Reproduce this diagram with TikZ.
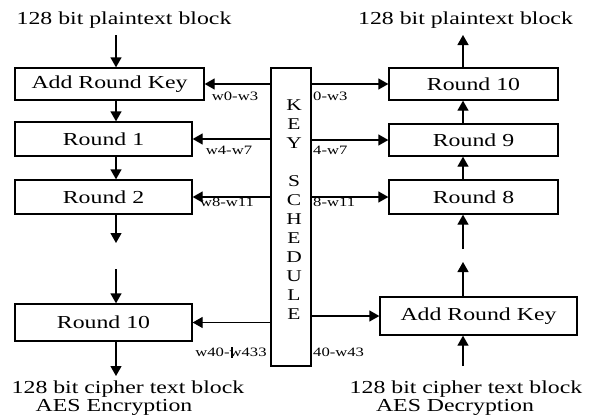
\documentclass[tikz,border=0pt]{standalone}
\usepackage{fontspec}
\usepackage{graphicx}
\setmainfont{Liberation Serif}
\usetikzlibrary{arrows.meta}
\newcommand\wide[1]{\scalebox{1.3}[1]{#1}}
\tikzset{
  box/.style={draw, line width=1.3pt, inner sep=0pt, font=\fontsize{18.3}{20}\selectfont},
  big/.style={inner sep=0pt, font=\fontsize{18.3}{20}\selectfont},
  lbl/.style={inner sep=0pt, font=\fontsize{12.8}{14}\selectfont},
  arr/.style={line width=1.3pt, -{Triangle[length=10pt,width=11pt]}}
}
\begin{document}
\begin{tikzpicture}[x=1pt,y=-1pt]
\useasboundingbox (0,0) rectangle (589,415);
% left column
\node[big] (pl) at (124,20) {\wide{128 bit plaintext block}};
\node[box, minimum width=189pt, minimum height=32pt] (lark) at (109.5,84) {\wide{Add Round Key}};
\node[box, minimum width=177pt, minimum height=34pt] (r1) at (103.5,139) {\wide{Round 1}};
\node[box, minimum width=177pt, minimum height=34pt] (r2) at (103.5,197) {\wide{Round 2}};
\node[box, minimum width=177pt, minimum height=37pt] (r10) at (103.5,322.5) {\wide{Round 10}};
\node[big] (ct) at (128,389) {\wide{128 bit cipher text block}};
\node[big] (enc) at (114,407) {\wide{AES Encryption}};
\coordinate (ax) at (116,0);
\coordinate (la0) at (116,35);
\coordinate (la1) at (116,243);
\coordinate (la2) at (116,269);
\coordinate (la3) at (116,376);
\draw[arr] (la0) -- (lark.north -| ax);
\draw[arr] (lark.south -| ax) -- (r1.north -| ax);
\draw[arr] (r1.south -| ax) -- (r2.north -| ax);
\draw[arr] (r2.south -| ax) -- (la1);
\draw[arr] (la2) -- (r10.north -| ax);
\draw[arr] (r10.south -| ax) -- (la3);
% key schedule
\node[draw, line width=1.3pt, minimum width=40pt, minimum height=298pt, inner sep=0pt] (key) at (291,217) {};
\node[inner sep=0pt, align=center, font=\fontsize{16.5}{19}\selectfont] (ks) at (294,209.5)
  {\wide{K}\\\wide{E}\\\wide{Y}\\~\\\wide{S}\\\wide{C}\\\wide{H}\\\wide{E}\\\wide{D}\\\wide{U}\\\wide{L}\\\wide{E}};
% right column
\node[big] (pr) at (465.5,20) {\wide{128 bit plaintext block}};
\node[box, minimum width=169pt, minimum height=32pt] (R10) at (473.5,84) {\wide{Round 10}};
\node[box, minimum width=169pt, minimum height=32pt] (R9) at (473.5,140) {\wide{Round 9}};
\node[box, minimum width=169pt, minimum height=34pt] (R8) at (473.5,197) {\wide{Round 8}};
\node[box, minimum width=197pt, minimum height=38pt] (rark) at (478.5,316) {\wide{Add Round Key}};
\node[big] (cr) at (466,389) {\wide{128 bit cipher text block}};
\node[big] (dec) at (455,407) {\wide{AES Decryption}};
\coordinate (bx) at (463,0);
\coordinate (ra0) at (463,35);
\coordinate (ra1) at (463,249);
\coordinate (ra2) at (463,262);
\coordinate (ra3) at (463,366);
\draw[arr] (R10.north -| bx) -- (ra0);
\draw[arr] (R9.north -| bx) -- (R10.south -| bx);
\draw[arr] (R8.north -| bx) -- (R9.south -| bx);
\draw[arr] (ra1) -- (R8.south -| bx);
\draw[arr] (rark.north -| bx) -- (ra2);
\draw[arr] (ra3) -- (rark.south -| bx);
% key arrows
\draw[arr] (key.west |- lark.east) -- (lark.east);
\draw[arr] (key.west |- r1.east) -- (r1.east);
\draw[arr] (key.west |- r2.east) -- (r2.east);
\draw[arr] (key.west |- r10.east) -- (r10.east);
\draw[arr] (key.east |- R10.west) -- (R10.west);
\draw[arr] (key.east |- R9.west) -- (R9.west);
\draw[arr] (key.east |- R8.west) -- (R8.west);
\draw[arr] (key.east |- rark.west) -- (rark.west);
% labels
\node[lbl] (l1) at (235,96) {\wide{w0-w3}};
\node[lbl] (l2) at (229,150) {\wide{w4-w7}};
\node[lbl] (l3) at (227,202) {\wide{w8-w11}};
\node[lbl] (l4) at (231,352) {\wide{w40-w433}};
\draw[line width=1.3pt] (232,347) -- (232,358);
\node[lbl, anchor=west] (m1) at (313,96) {\wide{0-w3}};
\node[lbl, anchor=west] (m2) at (313,150) {\wide{4-w7}};
\node[lbl, anchor=west] (m3) at (313,202) {\wide{8-w11}};
\node[lbl, anchor=west] (m4) at (313,352) {\wide{40-w43}};
\end{tikzpicture}
\end{document}
